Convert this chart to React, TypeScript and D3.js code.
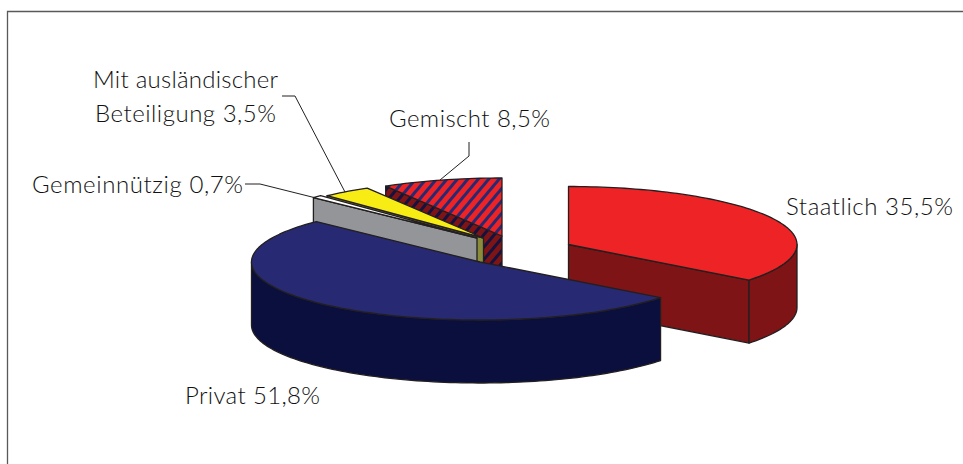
import React from 'react';
import * as d3 from 'd3';

const categories = ['Staatlich', 'Privat', 'Gemeinnützig', 'Mit ausländischer Beteiligung', 'Gemischt'];
const shares = [35.5, 51.8, 0.7, 3.5, 8.5];
const valueLabels = ['35,5%', '51,8%', '0,7%', '3,5%', '8,5%'];

const width = 963;
const height = 464;

// ellipse of the tilted pie
const rx = 228.5;
const ry = 58;
const depth = 63;

const outline = '#231f20';

// where each exploded slice has its tip, and how it is painted
const sliceStyles = [
  { tip: [568.5, 244.5], top: '#ee2326', side: '#7e1416' },
  { tip: [480, 262], top: '#272a72', side: '#0b0f3d' },
  { tip: [477, 238], top: '#ffffff', side: '#939598' },
  { tip: [483.5, 238], top: '#f7ec13', side: '#8a8c3c' },
  { tip: [502, 236], top: 'url(#hatchTop)', side: 'url(#hatchSide)' },
];

// painted back to front
const drawOrder = [0, 4, 3, 2, 1];

const pie = d3.pie<number>().sort(null).value((d) => d);
const arcs = pie(shares);

const line = d3.line();

const point = (tip: number[], angle: number, drop = 0): [number, number] => [
  tip[0] + rx * Math.sin(angle),
  tip[1] - ry * Math.cos(angle) + drop,
];

const arcPoints = (tip: number[], a0: number, a1: number, drop = 0) => {
  const steps = Math.max(2, Math.ceil(Math.abs(a1 - a0) * 40));
  return d3.range(steps + 1).map((i) => point(tip, a0 + ((a1 - a0) * i) / steps, drop));
};

const closed = (pts: [number, number][]) => `${line(pts)}Z`;

function Slice({ index }: { index: number }) {
  const { startAngle, endAngle } = arcs[index];
  const { tip, top, side } = sliceStyles[index];
  const apex = tip as [number, number];
  const apexDown: [number, number] = [tip[0], tip[1] + depth];

  const wall = (a: number) => closed([apex, point(tip, a), point(tip, a, depth), apexDown]);
  const faces: string[] = [];

  // a cut face is seen when its normal points down the screen
  if (Math.sin(startAngle) < 0) faces.push(wall(startAngle));
  if (Math.sin(endAngle) > 0) faces.push(wall(endAngle));

  // outer rim, only its front half can be seen
  const rimStart = Math.max(startAngle, Math.PI / 2);
  const rimEnd = Math.min(endAngle, (3 * Math.PI) / 2);
  if (rimStart < rimEnd) {
    faces.push(closed([...arcPoints(tip, rimStart, rimEnd), ...arcPoints(tip, rimEnd, rimStart, depth)]));
  }

  const topFace = closed([apex, ...arcPoints(tip, startAngle, endAngle)]);

  return (
    <g stroke={outline} strokeWidth={1.3} strokeLinejoin="round">
      {faces.map((d, i) => (
        <path key={i} d={d} fill={side} />
      ))}
      <path d={topFace} fill={top} />
    </g>
  );
}

const labelStyle = {
  fontFamily: 'Lato, "Open Sans", sans-serif',
  fontSize: 24,
  fontWeight: 300,
  fill: '#111',
};

const leaders: [number, number][][] = [
  [[282, 96], [295, 96], [345, 192]],
  [[245, 184], [260, 184], [316, 198]],
  [[469, 142], [469, 156], [440, 180]],
];

export default function App() {
  return (
    <svg
      width={width}
      height={height}
      style={{ position: 'absolute', left: 0, top: 0, background: '#fff' }}
    >
      <defs>
        <pattern id="hatchTop" width={8} height={8} patternUnits="userSpaceOnUse" patternTransform="rotate(-50)">
          <rect width={8} height={8} fill="#ee2326" />
          <rect width={8} height={3} fill="#272a72" />
        </pattern>
        <pattern id="hatchSide" width={8} height={8} patternUnits="userSpaceOnUse" patternTransform="rotate(-50)">
          <rect width={8} height={8} fill="#7e1416" />
          <rect width={8} height={3} fill="#14123f" />
        </pattern>
      </defs>

      <path d={`M7.5,${height}V11.5H${width}`} fill="none" stroke="#58595b" strokeWidth={1.3} />

      {drawOrder.map((i) => (
        <Slice key={categories[i]} index={i} />
      ))}

      {leaders.map((pts, i) => (
        <path key={i} d={line(pts) as string} fill="none" stroke={outline} strokeWidth={1} />
      ))}

      <g {...labelStyle}>
        <text x={786} y={215} textLength={167}>{`${categories[0]} ${valueLabels[0]}`}</text>
        <text x={185} y={404} textLength={135}>{`${categories[1]} ${valueLabels[1]}`}</text>
        <text x={32} y={192.5} textLength={211}>{`${categories[2]} ${valueLabels[2]}`}</text>
        <text x={93} y={88} textLength={185}>Mit ausländischer</text>
        <text x={95} y={122} textLength={181}>{`Beteiligung ${valueLabels[3]}`}</text>
        <text x={389} y={126.5} textLength={161}>{`${categories[4]} ${valueLabels[4]}`}</text>
      </g>
    </svg>
  );
}
